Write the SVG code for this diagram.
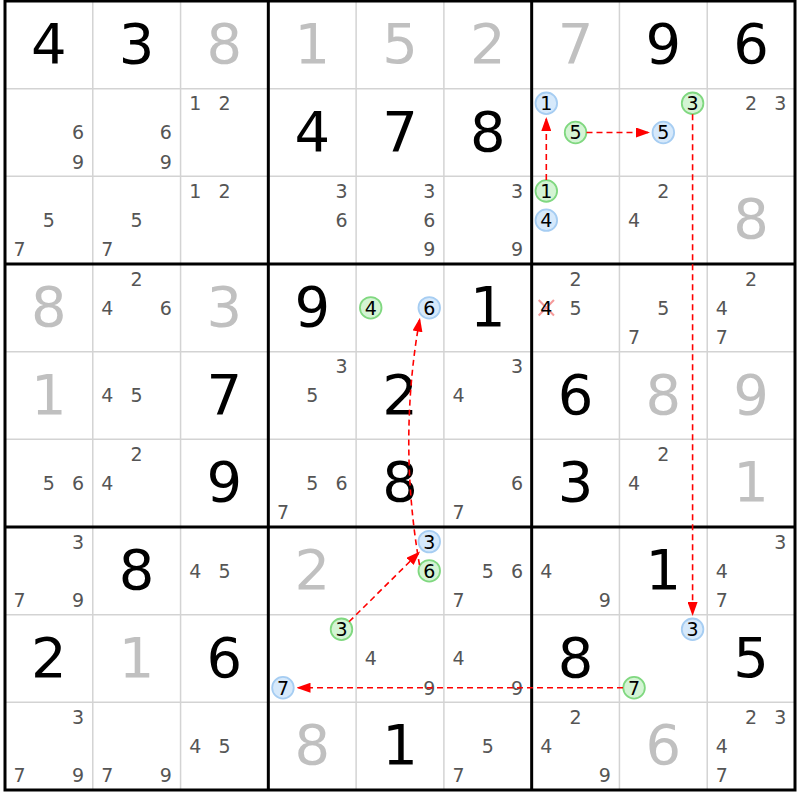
<svg xmlns="http://www.w3.org/2000/svg" width="800" height="800" viewBox="0 0 800 800">
<style>
text{font-family:"DejaVu Sans","Liberation Sans",sans-serif;text-anchor:middle}
.G{font-size:56px;fill:#000}
.S{font-size:56px;fill:#c0c0c0}
.c{font-size:19px;fill:#555}
.k{font-size:19px;fill:#000}
.thin{stroke:#d3d3d3;stroke-width:1.5}
.thick{stroke:#000;stroke-width:3}
circle.g{fill:#d4f4d4;stroke:#80d880;stroke-width:1.8}
circle.b{fill:#d6e9fb;stroke:#a6cdf2;stroke-width:1.8}
.lnk{fill:none;stroke:#ff0000;stroke-width:1.6;stroke-dasharray:6,4;marker-end:url(#ah)}
.x{stroke:#f59a9a;stroke-width:2}
</style>
<defs>
<marker id="ah" markerUnits="userSpaceOnUse" markerWidth="14" markerHeight="10" refX="12" refY="5" orient="auto">
<path d="M0,0 L14,5 L0,10 z" fill="#ff0000"/>
</marker>
</defs>
<rect x="0" y="0" width="800" height="800" fill="#fff"/>
<g id="grid">
<g class="thin">
<line x1="92.78" y1="1" x2="92.78" y2="790"/>
<line x1="180.56" y1="1" x2="180.56" y2="790"/>
<line x1="356.11" y1="1" x2="356.11" y2="790"/>
<line x1="443.89" y1="1" x2="443.89" y2="790"/>
<line x1="619.44" y1="1" x2="619.44" y2="790"/>
<line x1="707.22" y1="1" x2="707.22" y2="790"/>
<line x1="5" y1="88.67" x2="795" y2="88.67"/>
<line x1="5" y1="176.33" x2="795" y2="176.33"/>
<line x1="5" y1="351.67" x2="795" y2="351.67"/>
<line x1="5" y1="439.33" x2="795" y2="439.33"/>
<line x1="5" y1="614.67" x2="795" y2="614.67"/>
<line x1="5" y1="702.33" x2="795" y2="702.33"/>
</g>
<g class="thick">
<line x1="268.33" y1="1" x2="268.33" y2="790"/>
<line x1="531.67" y1="1" x2="531.67" y2="790"/>
<line x1="5" y1="264" x2="795" y2="264"/>
<line x1="5" y1="527" x2="795" y2="527"/>
<rect x="5" y="1" width="790" height="789" fill="none"/>
</g>
</g>

<!-- row 1 -->
<g id="r1c1" transform="translate(5,1)"><text class="G" x="43.89" y="62">4</text></g>
<g id="r1c2" transform="translate(92.78,1)"><text class="G" x="43.89" y="62">3</text></g>
<g id="r1c3" transform="translate(180.56,1)"><text class="S" x="43.89" y="62">8</text></g>
<g id="r1c4" transform="translate(268.33,1)"><text class="S" x="43.89" y="62">1</text></g>
<g id="r1c5" transform="translate(356.11,1)"><text class="S" x="43.89" y="62">5</text></g>
<g id="r1c6" transform="translate(443.89,1)"><text class="S" x="43.89" y="62">2</text></g>
<g id="r1c7" transform="translate(531.67,1)"><text class="S" x="43.89" y="62">7</text></g>
<g id="r1c8" transform="translate(619.44,1)"><text class="G" x="43.89" y="62">9</text></g>
<g id="r1c9" transform="translate(707.22,1)"><text class="G" x="43.89" y="62">6</text></g>

<!-- row 2 -->
<g id="r2c1" transform="translate(5,88.67)"><text class="c" x="73.15" y="50.7">6</text><text class="c" x="73.15" y="80">9</text></g>
<g id="r2c2" transform="translate(92.78,88.67)"><text class="c" x="73.15" y="50.7">6</text><text class="c" x="73.15" y="80">9</text></g>
<g id="r2c3" transform="translate(180.56,88.67)"><text class="c" x="14.63" y="21.5">1</text><text class="c" x="43.89" y="21.5">2</text></g>
<g id="r2c4" transform="translate(268.33,88.67)"><text class="G" x="43.89" y="62">4</text></g>
<g id="r2c5" transform="translate(356.11,88.67)"><text class="G" x="43.89" y="62">7</text></g>
<g id="r2c6" transform="translate(443.89,88.67)"><text class="G" x="43.89" y="62">8</text></g>
<g id="r2c7" transform="translate(531.67,88.67)"><circle class="b" cx="14.63" cy="14.61" r="10.8"/><text class="k" x="14.63" y="21.5">1</text><circle class="g" cx="43.89" cy="43.83" r="10.8"/><text class="k" x="43.89" y="50.7">5</text></g>
<g id="r2c8" transform="translate(619.44,88.67)"><circle class="g" cx="73.15" cy="14.61" r="10.8"/><text class="k" x="73.15" y="21.5">3</text><circle class="b" cx="43.89" cy="43.83" r="10.8"/><text class="k" x="43.89" y="50.7">5</text></g>
<g id="r2c9" transform="translate(707.22,88.67)"><text class="c" x="43.89" y="21.5">2</text><text class="c" x="73.15" y="21.5">3</text></g>

<!-- row 3 -->
<g id="r3c1" transform="translate(5,176.33)"><text class="c" x="43.89" y="50.7">5</text><text class="c" x="14.63" y="80">7</text></g>
<g id="r3c2" transform="translate(92.78,176.33)"><text class="c" x="43.89" y="50.7">5</text><text class="c" x="14.63" y="80">7</text></g>
<g id="r3c3" transform="translate(180.56,176.33)"><text class="c" x="14.63" y="21.5">1</text><text class="c" x="43.89" y="21.5">2</text></g>
<g id="r3c4" transform="translate(268.33,176.33)"><text class="c" x="73.15" y="21.5">3</text><text class="c" x="73.15" y="50.7">6</text></g>
<g id="r3c5" transform="translate(356.11,176.33)"><text class="c" x="73.15" y="21.5">3</text><text class="c" x="73.15" y="50.7">6</text><text class="c" x="73.15" y="80">9</text></g>
<g id="r3c6" transform="translate(443.89,176.33)"><text class="c" x="73.15" y="21.5">3</text><text class="c" x="73.15" y="80">9</text></g>
<g id="r3c7" transform="translate(531.67,176.33)"><circle class="g" cx="14.63" cy="14.61" r="10.8"/><text class="k" x="14.63" y="21.5">1</text><circle class="b" cx="14.63" cy="43.83" r="10.8"/><text class="k" x="14.63" y="50.7">4</text></g>
<g id="r3c8" transform="translate(619.44,176.33)"><text class="c" x="43.89" y="21.5">2</text><text class="c" x="14.63" y="50.7">4</text></g>
<g id="r3c9" transform="translate(707.22,176.33)"><text class="S" x="43.89" y="62">8</text></g>

<!-- row 4 -->
<g id="r4c1" transform="translate(5,264)"><text class="S" x="43.89" y="62">8</text></g>
<g id="r4c2" transform="translate(92.78,264)"><text class="c" x="43.89" y="21.5">2</text><text class="c" x="14.63" y="50.7">4</text><text class="c" x="73.15" y="50.7">6</text></g>
<g id="r4c3" transform="translate(180.56,264)"><text class="S" x="43.89" y="62">3</text></g>
<g id="r4c4" transform="translate(268.33,264)"><text class="G" x="43.89" y="62">9</text></g>
<g id="r4c5" transform="translate(356.11,264)"><circle class="g" cx="14.63" cy="43.83" r="10.8"/><text class="k" x="14.63" y="50.7">4</text><circle class="b" cx="73.15" cy="43.83" r="10.8"/><text class="k" x="73.15" y="50.7">6</text></g>
<g id="r4c6" transform="translate(443.89,264)"><text class="G" x="43.89" y="62">1</text></g>
<g id="r4c7" transform="translate(531.67,264)"><text class="c" x="43.89" y="21.5">2</text><line class="x" x1="7" y1="36" x2="22.3" y2="51.5"/><line class="x" x1="22.3" y1="36" x2="7" y2="51.5"/><text class="k" x="14.63" y="50.7">4</text><text class="c" x="43.89" y="50.7">5</text></g>
<g id="r4c8" transform="translate(619.44,264)"><text class="c" x="43.89" y="50.7">5</text><text class="c" x="14.63" y="80">7</text></g>
<g id="r4c9" transform="translate(707.22,264)"><text class="c" x="43.89" y="21.5">2</text><text class="c" x="14.63" y="50.7">4</text><text class="c" x="14.63" y="80">7</text></g>

<!-- row 5 -->
<g id="r5c1" transform="translate(5,351.67)"><text class="S" x="43.89" y="62">1</text></g>
<g id="r5c2" transform="translate(92.78,351.67)"><text class="c" x="14.63" y="50.7">4</text><text class="c" x="43.89" y="50.7">5</text></g>
<g id="r5c3" transform="translate(180.56,351.67)"><text class="G" x="43.89" y="62">7</text></g>
<g id="r5c4" transform="translate(268.33,351.67)"><text class="c" x="73.15" y="21.5">3</text><text class="c" x="43.89" y="50.7">5</text></g>
<g id="r5c5" transform="translate(356.11,351.67)"><text class="G" x="43.89" y="62">2</text></g>
<g id="r5c6" transform="translate(443.89,351.67)"><text class="c" x="73.15" y="21.5">3</text><text class="c" x="14.63" y="50.7">4</text></g>
<g id="r5c7" transform="translate(531.67,351.67)"><text class="G" x="43.89" y="62">6</text></g>
<g id="r5c8" transform="translate(619.44,351.67)"><text class="S" x="43.89" y="62">8</text></g>
<g id="r5c9" transform="translate(707.22,351.67)"><text class="S" x="43.89" y="62">9</text></g>

<!-- row 6 -->
<g id="r6c1" transform="translate(5,439.33)"><text class="c" x="43.89" y="50.7">5</text><text class="c" x="73.15" y="50.7">6</text></g>
<g id="r6c2" transform="translate(92.78,439.33)"><text class="c" x="43.89" y="21.5">2</text><text class="c" x="14.63" y="50.7">4</text></g>
<g id="r6c3" transform="translate(180.56,439.33)"><text class="G" x="43.89" y="62">9</text></g>
<g id="r6c4" transform="translate(268.33,439.33)"><text class="c" x="43.89" y="50.7">5</text><text class="c" x="73.15" y="50.7">6</text><text class="c" x="14.63" y="80">7</text></g>
<g id="r6c5" transform="translate(356.11,439.33)"><text class="G" x="43.89" y="62">8</text></g>
<g id="r6c6" transform="translate(443.89,439.33)"><text class="c" x="73.15" y="50.7">6</text><text class="c" x="14.63" y="80">7</text></g>
<g id="r6c7" transform="translate(531.67,439.33)"><text class="G" x="43.89" y="62">3</text></g>
<g id="r6c8" transform="translate(619.44,439.33)"><text class="c" x="43.89" y="21.5">2</text><text class="c" x="14.63" y="50.7">4</text></g>
<g id="r6c9" transform="translate(707.22,439.33)"><text class="S" x="43.89" y="62">1</text></g>

<!-- row 7 -->
<g id="r7c1" transform="translate(5,527)"><text class="c" x="73.15" y="21.5">3</text><text class="c" x="14.63" y="80">7</text><text class="c" x="73.15" y="80">9</text></g>
<g id="r7c2" transform="translate(92.78,527)"><text class="G" x="43.89" y="62">8</text></g>
<g id="r7c3" transform="translate(180.56,527)"><text class="c" x="14.63" y="50.7">4</text><text class="c" x="43.89" y="50.7">5</text></g>
<g id="r7c4" transform="translate(268.33,527)"><text class="S" x="43.89" y="62">2</text></g>
<g id="r7c5" transform="translate(356.11,527)"><circle class="b" cx="73.15" cy="14.61" r="10.8"/><text class="k" x="73.15" y="21.5">3</text><circle class="g" cx="73.15" cy="43.83" r="10.8"/><text class="k" x="73.15" y="50.7">6</text></g>
<g id="r7c6" transform="translate(443.89,527)"><text class="c" x="43.89" y="50.7">5</text><text class="c" x="73.15" y="50.7">6</text><text class="c" x="14.63" y="80">7</text></g>
<g id="r7c7" transform="translate(531.67,527)"><text class="c" x="14.63" y="50.7">4</text><text class="c" x="73.15" y="80">9</text></g>
<g id="r7c8" transform="translate(619.44,527)"><text class="G" x="43.89" y="62">1</text></g>
<g id="r7c9" transform="translate(707.22,527)"><text class="c" x="73.15" y="21.5">3</text><text class="c" x="14.63" y="50.7">4</text><text class="c" x="14.63" y="80">7</text></g>

<!-- row 8 -->
<g id="r8c1" transform="translate(5,614.67)"><text class="G" x="43.89" y="62">2</text></g>
<g id="r8c2" transform="translate(92.78,614.67)"><text class="S" x="43.89" y="62">1</text></g>
<g id="r8c3" transform="translate(180.56,614.67)"><text class="G" x="43.89" y="62">6</text></g>
<g id="r8c4" transform="translate(268.33,614.67)"><circle class="g" cx="73.15" cy="14.61" r="10.8"/><text class="k" x="73.15" y="21.5">3</text><circle class="b" cx="14.63" cy="73.06" r="10.8"/><text class="k" x="14.63" y="80">7</text></g>
<g id="r8c5" transform="translate(356.11,614.67)"><text class="c" x="14.63" y="50.7">4</text><text class="c" x="73.15" y="80">9</text></g>
<g id="r8c6" transform="translate(443.89,614.67)"><text class="c" x="14.63" y="50.7">4</text><text class="c" x="73.15" y="80">9</text></g>
<g id="r8c7" transform="translate(531.67,614.67)"><text class="G" x="43.89" y="62">8</text></g>
<g id="r8c8" transform="translate(619.44,614.67)"><circle class="b" cx="73.15" cy="14.61" r="10.8"/><text class="k" x="73.15" y="21.5">3</text><circle class="g" cx="14.63" cy="73.06" r="10.8"/><text class="k" x="14.63" y="80">7</text></g>
<g id="r8c9" transform="translate(707.22,614.67)"><text class="G" x="43.89" y="62">5</text></g>

<!-- row 9 -->
<g id="r9c1" transform="translate(5,702.33)"><text class="c" x="73.15" y="21.5">3</text><text class="c" x="14.63" y="80">7</text><text class="c" x="73.15" y="80">9</text></g>
<g id="r9c2" transform="translate(92.78,702.33)"><text class="c" x="14.63" y="80">7</text><text class="c" x="73.15" y="80">9</text></g>
<g id="r9c3" transform="translate(180.56,702.33)"><text class="c" x="14.63" y="50.7">4</text><text class="c" x="43.89" y="50.7">5</text></g>
<g id="r9c4" transform="translate(268.33,702.33)"><text class="S" x="43.89" y="62">8</text></g>
<g id="r9c5" transform="translate(356.11,702.33)"><text class="G" x="43.89" y="62">1</text></g>
<g id="r9c6" transform="translate(443.89,702.33)"><text class="c" x="43.89" y="50.7">5</text><text class="c" x="14.63" y="80">7</text></g>
<g id="r9c7" transform="translate(531.67,702.33)"><text class="c" x="43.89" y="21.5">2</text><text class="c" x="14.63" y="50.7">4</text><text class="c" x="73.15" y="80">9</text></g>
<g id="r9c8" transform="translate(619.44,702.33)"><text class="S" x="43.89" y="62">6</text></g>
<g id="r9c9" transform="translate(707.22,702.33)"><text class="c" x="43.89" y="21.5">2</text><text class="c" x="73.15" y="21.5">3</text><text class="c" x="14.63" y="50.7">4</text><text class="c" x="14.63" y="80">7</text></g>

<g id="connectors">
<path class="lnk" d="M546.3,180 L546.3,119"/>
<path class="lnk" d="M586.5,132.5 L648,132.5"/>
<path class="lnk" d="M692.59,114.3 L692.59,614"/>
<path class="lnk" d="M419.5,565 Q398,441 419.6,319.6"/>
<path class="lnk" d="M349,621.8 L418.6,552.9"/>
<path class="lnk" d="M623,687.73 L298.5,687.73"/>
</g>
</svg>
